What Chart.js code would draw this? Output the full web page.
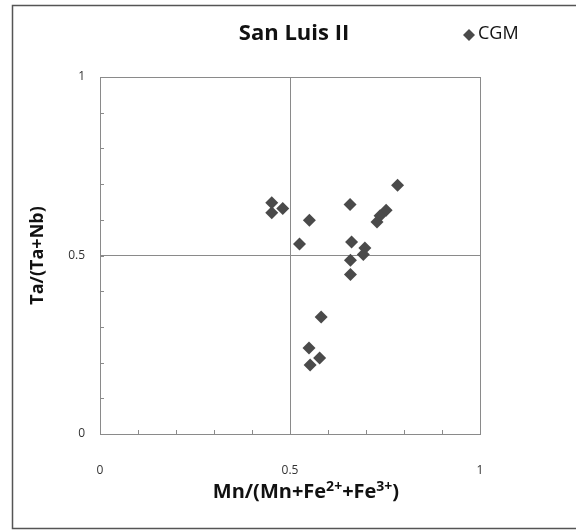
<!DOCTYPE html>
<html>
<head>
<meta charset="utf-8">
<script src="https://cdn.jsdelivr.net/npm/chart.js@4/dist/chart.umd.min.js"></script>
<style>
html,body{margin:0;padding:0;background:#fff;}
#wrap{width:576px;height:530px;position:relative;}
</style>
</head>
<body>
<div id="wrap"><canvas id="c" width="576" height="530"></canvas></div>
<script>
const chartTitle = "San Luis II";
const seriesName = "CGM";
// x-axis title pieces: [text, isSuperscript]
const xTitleParts = [["Mn/(Mn+Fe", false], ["2+", true], ["+Fe", false], ["3+", true], [")", false]];
const yTitle = "Ta/(Ta+Nb)";
const xValues = [0.452, 0.452, 0.481, 0.551, 0.525, 0.658, 0.783, 0.753, 0.737, 0.729, 0.662, 0.697, 0.693, 0.659, 0.659, 0.582, 0.550, 0.578, 0.553];
const yValues = [0.648, 0.620, 0.632, 0.599, 0.532, 0.643, 0.697, 0.627, 0.611, 0.594, 0.538, 0.521, 0.503, 0.487, 0.447, 0.328, 0.241, 0.213, 0.193];
const tickLabels = [0, 0.5, 1];

const points = xValues.map((x, i) => ({x: x, y: yValues[i]}));
const FONT = "'Open Sans', 'DejaVu Sans', sans-serif";

const decor = {
  id: 'decor',
  beforeDraw(chart) {
    const ctx = chart.ctx;
    ctx.save();
    ctx.fillStyle = '#fff';
    ctx.fillRect(0, 0, chart.width, chart.height);
    ctx.strokeStyle = '#555';
    ctx.lineWidth = 1.5;
    ctx.beginPath();
    ctx.moveTo(chart.width + 2, 5.5);
    ctx.lineTo(12.5, 5.5);
    ctx.lineTo(12.5, 528.5);
    ctx.lineTo(chart.width + 2, 528.5);
    ctx.stroke();
    ctx.restore();
  },
  beforeDatasetsDraw(chart) {
    const ctx = chart.ctx;
    const a = chart.chartArea;
    const xs = chart.scales.x, ys = chart.scales.y;
    ctx.save();
    ctx.strokeStyle = '#8a8a8a';
    ctx.lineWidth = 1;
    ctx.strokeRect(Math.round(a.left) + 0.5, Math.round(a.top) + 0.5, Math.round(a.right - a.left), Math.round(a.bottom - a.top));
    ctx.beginPath();
    for (let i = 1; i < 10; i++) {
      const v = i / 10;
      const px = Math.round(xs.getPixelForValue(v)) + 0.5;
      ctx.moveTo(px, a.bottom);
      ctx.lineTo(px, a.bottom - 4);
      const py = Math.round(ys.getPixelForValue(v)) + 0.5;
      ctx.moveTo(a.left, py);
      ctx.lineTo(a.left + 4, py);
    }
    ctx.stroke();
    ctx.restore();
  },
  afterDraw(chart) {
    const ctx = chart.ctx;
    ctx.save();
    ctx.fillStyle = '#111';
    ctx.font = "bold 22px " + FONT;
    ctx.textAlign = 'center';
    ctx.textBaseline = 'middle';
    ctx.fillText(chartTitle, 294, 34);
    // legend
    ctx.fillStyle = '#4a4a4a';
    ctx.beginPath();
    ctx.moveTo(463, 35); ctx.lineTo(469, 29); ctx.lineTo(475, 35); ctx.lineTo(469, 41); ctx.closePath();
    ctx.fill();
    ctx.fillStyle = '#111';
    ctx.font = "18px " + FONT;
    ctx.textAlign = 'left';
    ctx.fillText(seriesName, 478, 34);
    // x axis title with superscripts
    const mainFont = "bold 20px " + FONT;
    const supFont = "bold 14px " + FONT;
    let total = 0;
    xTitleParts.forEach(([t, sup]) => { ctx.font = sup ? supFont : mainFont; total += ctx.measureText(t).width; });
    let x = 306 - total / 2;
    const base = 498;
    ctx.textBaseline = 'alphabetic';
    xTitleParts.forEach(([t, sup]) => {
      ctx.font = sup ? supFont : mainFont;
      ctx.fillText(t, x, sup ? base - 7 : base);
      x += ctx.measureText(t).width;
    });
    ctx.restore();
  }
};

new Chart(document.getElementById('c'), {
  type: 'scatter',
  data: {
    datasets: [{
      label: seriesName,
      data: points,
      pointStyle: 'rectRot',
      pointRadius: 6.5,
      pointHoverRadius: 6.5,
      backgroundColor: '#4a4a4a',
      borderColor: '#4a4a4a',
      borderWidth: 0
    }]
  },
  plugins: [decor],
  options: {
    responsive: false,
    animation: false,
    devicePixelRatio: 1,
    layout: { padding: { left: 0, right: 96, top: 77, bottom: 0 } },
    plugins: {
      legend: { display: false },
      title: { display: false },
      tooltip: { enabled: false }
    },
    scales: {
      x: {
        type: 'linear',
        min: 0, max: 1,
        afterBuildTicks(scale) { scale.ticks = tickLabels.map(v => ({value: v})); },
        ticks: {
          color: '#333',
          font: { size: 12, family: FONT },
          padding: 29,
          maxRotation: 0,
          callback: v => String(v)
        },
        grid: {
          drawTicks: false,
          color: ctx => (ctx.tick && ctx.tick.value === 0.5) ? '#8a8a8a' : 'rgba(0,0,0,0)',
          lineWidth: 1
        },
        border: { display: false },
        title: { display: false },
        afterFit(scale) { scale.height = 96; }
      },
      y: {
        type: 'linear',
        min: 0, max: 1,
        afterBuildTicks(scale) { scale.ticks = tickLabels.map(v => ({value: v})); },
        ticks: {
          color: '#333',
          font: { size: 12, family: FONT },
          padding: 15,
          callback: v => String(v)
        },
        grid: {
          drawTicks: false,
          color: ctx => (ctx.tick && ctx.tick.value === 0.5) ? '#8a8a8a' : 'rgba(0,0,0,0)',
          lineWidth: 1
        },
        border: { display: false },
        title: {
          display: true,
          text: yTitle,
          color: '#111',
          font: { size: 18, weight: 'bold', family: FONT },
          padding: { top: 27, bottom: 0 }
        },
        afterFit(scale) { scale.width = 100; }
      }
    }
  }
});
</script>
</body>
</html>
